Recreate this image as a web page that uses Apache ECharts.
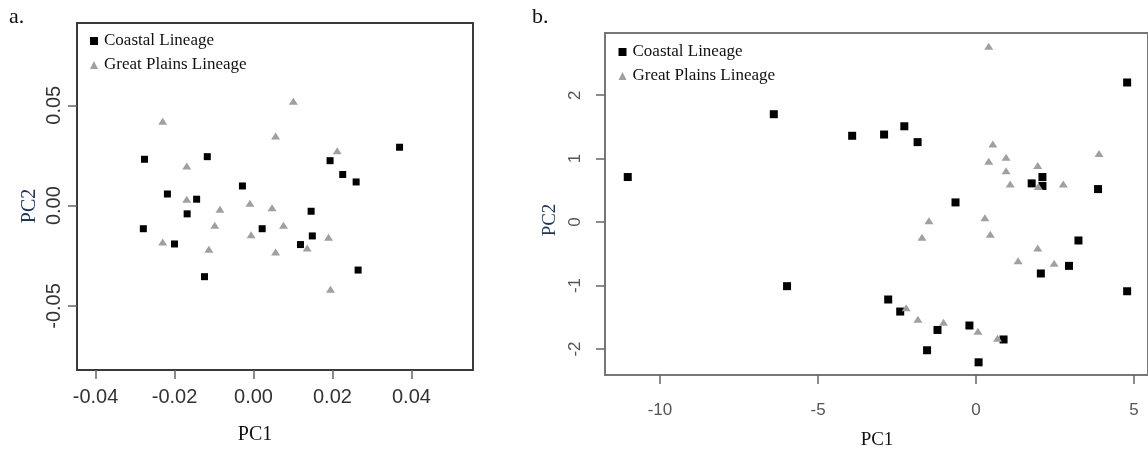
<!DOCTYPE html>
<html>
<head>
<meta charset="utf-8">
<script src="https://cdn.jsdelivr.net/npm/echarts@6/dist/echarts.min.js"></script>
<style>
html,body{margin:0;padding:0;background:#fff;}
#chart{width:1148px;height:454px;}
</style>
</head>
<body>
<div id="chart"></div>
<script>
// ---- Data ----
const seriesNames = ['Coastal Lineage', 'Great Plains Lineage'];

// Panel a
const coastalA_x = [-0.0276, -0.0117, -0.0218, -0.0144, -0.0168, -0.0279, -0.0200, -0.0124, -0.0028, 0.0022, 0.0146, 0.0149, 0.0119, 0.0194, 0.0226, 0.0260, 0.0370, 0.0265];
const coastalA_y = [0.0231, 0.0244, 0.0058, 0.0032, -0.0041, -0.0115, -0.0191, -0.0354, 0.0098, -0.0115, -0.0028, -0.0151, -0.0194, 0.0224, 0.0155, 0.0118, 0.0291, -0.0321];
const plainsA_x = [-0.0230, 0.0101, 0.0056, 0.0212, -0.0169, -0.0169, -0.0085, -0.0009, 0.0047, -0.0098, -0.0006, 0.0076, -0.0230, -0.0113, 0.0056, 0.0136, 0.0190, 0.0195];
const plainsA_y = [0.0421, 0.0520, 0.0347, 0.0274, 0.0198, 0.0032, -0.0018, 0.0012, -0.0011, -0.0098, -0.0145, -0.0098, -0.0181, -0.0217, -0.0231, -0.0211, -0.0158, -0.0417];

// Panel b
const coastalB_x = [-11.02, -6.40, -5.98, -3.92, -2.91, -2.27, -1.85, -0.65, -2.78, -2.40, -1.22, -1.55, -0.21, 0.08, 0.87, 1.76, 2.10, 2.10, 2.05, 2.94, 3.24, 3.86, 4.78, 4.78];
const coastalB_y = [0.71, 1.70, -1.01, 1.36, 1.38, 1.51, 1.26, 0.31, -1.22, -1.41, -1.70, -2.02, -1.63, -2.21, -1.85, 0.61, 0.71, 0.57, -0.81, -0.69, -0.29, 0.52, 2.20, -1.09];
const plainsB_x = [0.40, 0.53, 0.40, 0.95, 0.95, 1.08, 1.95, 1.97, 2.76, 3.89, -1.49, -1.71, 0.28, 0.45, 1.95, 1.33, 2.47, -2.21, -1.84, -1.03, 0.06, 0.68];
const plainsB_y = [2.77, 1.23, 0.96, 1.02, 0.81, 0.60, 0.89, 0.56, 0.60, 1.08, 0.02, -0.24, 0.07, -0.19, -0.41, -0.61, -0.65, -1.35, -1.53, -1.58, -1.72, -1.83];

// Tick labels
const ticksAX = [-0.04, -0.02, 0, 0.02, 0.04];
const ticksAY = [-0.05, 0, 0.05];
const ticksBX = [-10, -5, 0, 5];
const ticksBY = [-2, -1, 0, 1, 2];

const zip = (xs, ys) => xs.map((x, i) => [x, ys[i]]);

const SANS = "'Liberation Sans', Arial, sans-serif";
const SERIF = "'Liberation Serif', 'Times New Roman', serif";
const BLACK = '#000000';
const GRAY = '#a0a0a0';

function makeX(idx, min, max, ticks, fmt, fontSize, color, margin) {
  return {
    type: 'value', gridIndex: idx, min: min, max: max,
    splitLine: {show: false},
    axisLine: {show: false, onZero: false},
    axisTick: {show: true, customValues: ticks, length: 9, lineStyle: {color: '#666', width: 1.5}},
    axisLabel: {show: true, customValues: ticks, formatter: fmt, fontFamily: SANS, fontSize: fontSize, color: color, margin: margin}
  };
}
function makeY(idx, min, max, ticks, fmt, fontSize, color, margin) {
  return {
    type: 'value', gridIndex: idx, min: min, max: max,
    splitLine: {show: false},
    axisLine: {show: false, onZero: false},
    axisTick: {show: true, customValues: ticks, length: 9, lineStyle: {color: '#666', width: 1.5}},
    axisLabel: {show: true, customValues: ticks, formatter: fmt, rotate: 90, fontFamily: SANS, fontSize: fontSize, color: color, margin: margin}
  };
}

const fmtA = v => Number(v).toFixed(2);
const fmtB = v => String(Math.round(v));

const chart = echarts.init(document.getElementById('chart'), null, {renderer: 'canvas'});
chart.setOption({
  animation: false,
  backgroundColor: '#ffffff',
  grid: [
    {left: 77, top: 23, width: 396, height: 347, show: true, borderColor: '#3a3a3a', borderWidth: 2, backgroundColor: 'transparent'},
    {left: 605, top: 33, width: 545, height: 342, show: true, borderColor: '#777777', borderWidth: 2, backgroundColor: 'transparent'}
  ],
  xAxis: [
    makeX(0, -0.0447, 0.0556, ticksAX, fmtA, 20, '#333333', 17),
    makeX(1, -11.74, 5.44, ticksBX, fmtB, 17, '#555555', 27)
  ],
  yAxis: [
    makeY(0, -0.0819, 0.091, ticksAY, fmtA, 20, '#333333', 13),
    makeY(1, -2.41, 2.98, ticksBY, fmtB, 17, '#555555', 21)
  ],
  legend: [
    {
      orient: 'vertical', left: 90, top: 32.5, padding: 0, itemWidth: 8, itemHeight: 8, itemGap: 7,
      selectedMode: false,
      textStyle: {fontFamily: SERIF, fontSize: 17, color: '#111111', padding: [0, 0, 0, 1]},
      data: [
        {name: seriesNames[0], icon: 'rect', itemStyle: {color: BLACK, opacity: 1}},
        {name: seriesNames[1], icon: 'triangle', itemStyle: {color: GRAY, opacity: 1}}
      ]
    },
    {
      orient: 'vertical', left: 618.5, top: 43.5, padding: 0, itemWidth: 8, itemHeight: 8, itemGap: 7,
      selectedMode: false,
      textStyle: {fontFamily: SERIF, fontSize: 17, color: '#111111', padding: [0, 0, 0, 1]},
      data: [
        {name: seriesNames[0], icon: 'rect', itemStyle: {color: BLACK, opacity: 1}},
        {name: seriesNames[1], icon: 'triangle', itemStyle: {color: GRAY, opacity: 1}}
      ]
    }
  ],
  series: [
    {name: seriesNames[0], type: 'scatter', xAxisIndex: 0, yAxisIndex: 0, symbol: 'rect', symbolSize: 7,
     itemStyle: {color: BLACK, opacity: 1}, data: zip(coastalA_x, coastalA_y)},
    {name: seriesNames[1], type: 'scatter', xAxisIndex: 0, yAxisIndex: 0, symbol: 'triangle', symbolSize: [9, 7],
     itemStyle: {color: GRAY, opacity: 1}, data: zip(plainsA_x, plainsA_y)},
    {name: seriesNames[0], type: 'scatter', xAxisIndex: 1, yAxisIndex: 1, symbol: 'rect', symbolSize: 8,
     itemStyle: {color: BLACK, opacity: 1}, data: zip(coastalB_x, coastalB_y)},
    {name: seriesNames[1], type: 'scatter', xAxisIndex: 1, yAxisIndex: 1, symbol: 'triangle', symbolSize: [9, 7],
     itemStyle: {color: GRAY, opacity: 1}, data: zip(plainsB_x, plainsB_y)}
  ],
  graphic: [
    {type: 'text', left: 9, top: 6, style: {text: 'a.', font: '22px ' + SERIF, fill: '#111'}},
    {type: 'text', left: 532, top: 6, style: {text: 'b.', font: '22px ' + SERIF, fill: '#111'}},
    {type: 'text', x: 255, y: 435, style: {text: 'PC1', font: '20px ' + SERIF, fill: '#111', align: 'center', verticalAlign: 'middle'}},
    {type: 'text', x: 30, y: 206, rotation: Math.PI / 2, style: {text: 'PC2', font: '20px ' + SERIF, fill: '#1c3566', align: 'center', verticalAlign: 'middle'}},
    {type: 'text', x: 877, y: 440, style: {text: 'PC1', font: '19px ' + SERIF, fill: '#111', align: 'center', verticalAlign: 'middle'}},
    {type: 'text', x: 550, y: 220, rotation: Math.PI / 2, style: {text: 'PC2', font: '19px ' + SERIF, fill: '#1c3566', align: 'center', verticalAlign: 'middle'}}
  ]
});
</script>
</body>
</html>
